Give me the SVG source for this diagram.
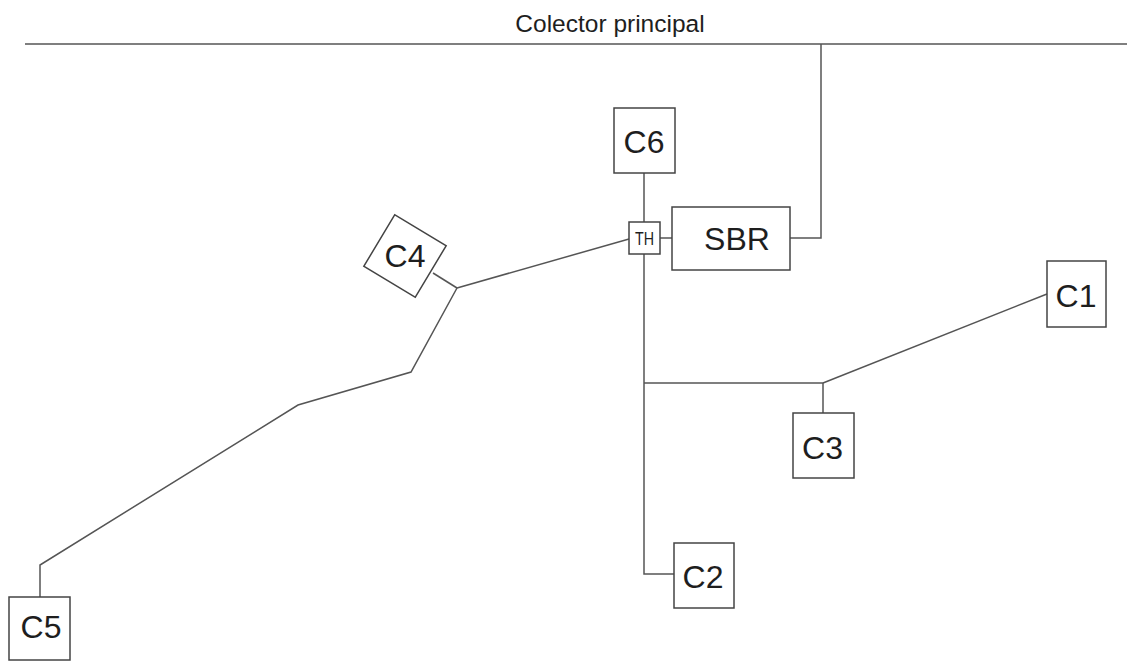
<svg xmlns="http://www.w3.org/2000/svg" width="1127" height="664" viewBox="0 0 1127 664">
  <style>
    .box { fill: #fff; stroke: #444; stroke-width: 1.5; }
    .pipe { fill: none; stroke: #555; stroke-width: 1.5; }
    .lbl { font-family: "Liberation Sans", Arial, sans-serif; fill: #1e1e1e; text-anchor: middle; }
    .big { font-size: 32px; }
  </style>
  <rect width="1127" height="664" fill="#fff"/>

  <!-- main collector -->
  <g id="colector">
    <line class="pipe" x1="25" y1="44" x2="1127" y2="44" stroke-width="2"/>
    <text class="lbl" x="610" y="32" font-size="24.5" fill="#333">Colector principal</text>
  </g>

  <!-- connectors -->
  <g id="connectors">
    <polyline class="pipe" points="821,44 821,238 790,238"/>
    <line class="pipe" x1="644" y1="173" x2="644" y2="222"/>
    <line class="pipe" x1="660" y1="238" x2="672" y2="238"/>
    <polyline class="pipe" points="644,254 644,574 674,574"/>
    <polyline class="pipe" points="644,383 823,383 823,413"/>
    <line class="pipe" x1="823" y1="383" x2="1047" y2="294"/>
    <line class="pipe" x1="629" y1="239" x2="457" y2="288"/>
    <line class="pipe" x1="433" y1="273" x2="457" y2="288"/>
    <polyline class="pipe" points="457,288 411,372 298,405 40,565 40,597"/>
  </g>

  <g id="C6">
    <rect class="box" x="614" y="108" width="61" height="65"/>
    <text class="lbl big" x="644" y="153">C6</text>
  </g>

  <g id="TH">
    <rect class="box" x="629" y="222" width="31" height="32"/>
    <text class="lbl" x="644.5" y="245" font-size="18" textLength="19" lengthAdjust="spacingAndGlyphs">TH</text>
  </g>

  <g id="SBR">
    <rect class="box" x="672" y="207" width="118" height="63"/>
    <text class="lbl big" x="737" y="250">SBR</text>
  </g>

  <g id="C4">
    <rect class="box" x="375" y="226" width="60" height="60" transform="rotate(31 405 256)"/>
    <text class="lbl big" x="405" y="267">C4</text>
  </g>

  <g id="C1">
    <rect class="box" x="1047" y="261" width="59" height="66"/>
    <text class="lbl big" x="1076" y="307">C1</text>
  </g>

  <g id="C3">
    <rect class="box" x="793" y="413" width="61" height="65"/>
    <text class="lbl big" x="822.5" y="459">C3</text>
  </g>

  <g id="C2">
    <rect class="box" x="674" y="543" width="60" height="65"/>
    <text class="lbl big" x="703" y="588">C2</text>
  </g>

  <g id="C5">
    <rect class="box" x="9" y="597" width="61" height="63"/>
    <text class="lbl big" x="41" y="638">C5</text>
  </g>
</svg>
